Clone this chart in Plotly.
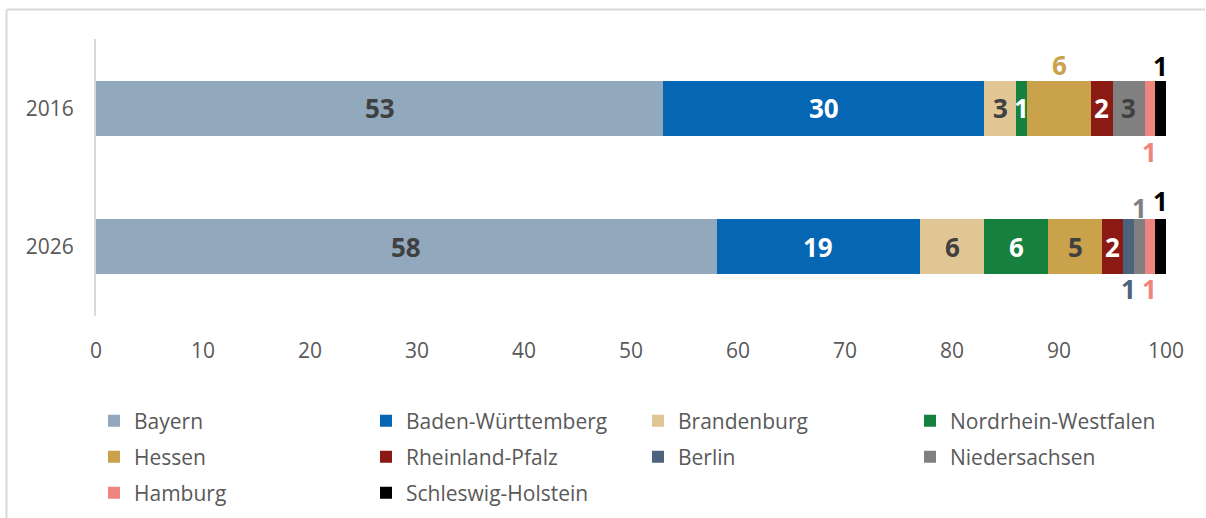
import plotly.graph_objects as go

years = ["2016", "2026"]
states = ["Bayern", "Baden-Württemberg", "Brandenburg", "Nordrhein-Westfalen",
          "Hessen", "Rheinland-Pfalz", "Berlin", "Niedersachsen",
          "Hamburg", "Schleswig-Holstein"]
v2016 = [53, 30, 3, 1, 6, 2, 0, 3, 1, 1]
v2026 = [58, 19, 6, 6, 5, 2, 1, 1, 1, 1]
x_ticks = [0, 10, 20, 30, 40, 50, 60, 70, 80, 90, 100]

colors = ["#91a8bd", "#0566b3", "#e0c595", "#16803f", "#c9a24b",
          "#8b1a15", "#4c637e", "#808080", "#f0857f", "#000000"]
inside_font = ["#404040", "#ffffff", "#404040", "#ffffff", "#404040",
               "#ffffff", "#ffffff", "#404040", "#404040", "#ffffff"]
# label placement per year: "in" inside bar, number = pixel shift above(-)/below(+)
placement = {
    "2016": ["in", "in", "in", "in", -43, "in", None, "in", 44, -42],
    "2026": ["in", "in", "in", "in", "in", "in", 42, -39, 42, -46],
}
legend_of = ["legend"] * 4 + ["legend2"] * 4 + ["legend3"] * 2

FONT = "Open Sans"
LABEL_SIZE = 26
fig = go.Figure()
values = {"2016": v2016, "2026": v2026}
for i, s in enumerate(states):
    fig.add_trace(go.Bar(
        name=s, y=years, x=[v2016[i], v2026[i]], orientation="h",
        marker=dict(color=colors[i], line=dict(width=0)),
        legend=legend_of[i], hoverinfo="skip",
    ))

annotations = []
for yi, yr in enumerate(years):
    vals = values[yr]
    cum = 0
    for i, v in enumerate(vals):
        mid = cum + v / 2
        cum += v
        p = placement[yr][i]
        if p is None:
            continue
        if p == "in":
            annotations.append(dict(x=mid, y=yi, xref="x", yref="y", text=f"<b>{v}</b>",
                                    showarrow=False,
                                    font=dict(family=FONT, size=LABEL_SIZE, color=inside_font[i])))
        else:
            annotations.append(dict(x=mid, y=yi, xref="x", yref="y", text=f"<b>{v}</b>",
                                    showarrow=False, yshift=-p,
                                    font=dict(family=FONT, size=LABEL_SIZE, color=colors[i])))

W, H = 1206, 518
ml, mr, mt, mb = 96, 40, 39, 202
pw, ph = W - ml - mr, H - mt - mb

def px_x(px):
    return (px - ml) / pw

def px_y(py):
    return (H - mb - py) / ph

legend_common = dict(orientation="h", xanchor="left", yanchor="middle",
                     entrywidth=227, entrywidthmode="pixels", traceorder="normal",
                     font=dict(family=FONT, size=21, color="#595959"),
                     bgcolor="rgba(0,0,0,0)", itemclick=False, itemdoubleclick=False)

fig.update_layout(
    width=W, height=H,
    margin=dict(l=ml, r=mr, t=mt, b=mb, autoexpand=False),
    barmode="stack", bargap=0.6,
    plot_bgcolor="white", paper_bgcolor="white",
    font=dict(family=FONT, color="#595959"),
    annotations=annotations,
    legend=dict(x=px_x(94), y=px_y(421), **legend_common),
    legend2=dict(x=px_x(94), y=px_y(457), **legend_common),
    legend3=dict(x=px_x(94), y=px_y(493), **legend_common),
    shapes=[
        dict(type="line", xref="paper", yref="paper", x0=px_x(6.5), x1=px_x(1205),
             y0=px_y(9.5), y1=px_y(9.5), line=dict(color="#d9d9d9", width=2)),
        dict(type="line", xref="paper", yref="paper", x0=px_x(6.5), x1=px_x(6.5),
             y0=px_y(9.5), y1=px_y(530), line=dict(color="#d9d9d9", width=2)),
    ],
    xaxis=dict(range=[0, 100], tickvals=x_ticks, ticktext=[str(t) for t in x_ticks],
               showgrid=False, zeroline=False, showline=False, ticks="",
               ticklabelstandoff=20,
               tickfont=dict(family=FONT, size=21, color="#595959")),
    yaxis=dict(type="category", categoryorder="array", categoryarray=years,
               range=[1.5, -0.5], autorange=False, showgrid=False, zeroline=False,
               showline=True, linecolor="#d9d9d9", linewidth=2, ticks="",
               ticklabelstandoff=16,
               tickfont=dict(family=FONT, size=21, color="#595959")),
)

fig.write_html("out.html", config={"displayModeBar": False},
               post_script="document.body.style.margin='0';")
